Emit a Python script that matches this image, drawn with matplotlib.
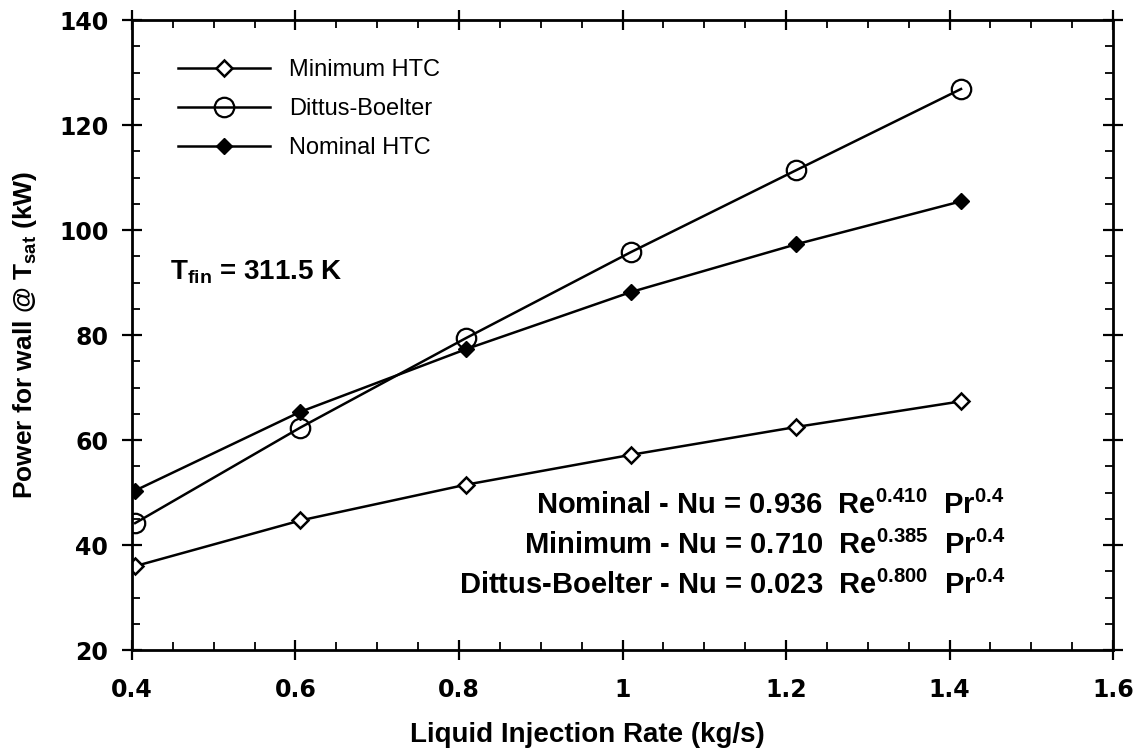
import matplotlib.pyplot as plt
from matplotlib.ticker import MultipleLocator

plt.rcParams['mathtext.fontset'] = 'custom'
plt.rcParams['mathtext.rm'] = 'Liberation Sans:bold'
plt.rcParams['mathtext.bf'] = 'Liberation Sans:bold'
plt.rcParams['mathtext.it'] = 'Liberation Sans:bold'

# injection rate (kg/s)
rate = [0.404, 0.606, 0.808, 1.010, 1.212, 1.414]

# wall power at T_sat (kW)
minimum_htc = [36.0, 44.7, 51.5, 57.2, 62.5, 67.4]
dittus_boelter = [44.2, 62.4, 79.4, 95.8, 111.4, 126.9]
nominal_htc = [50.4, 65.4, 77.3, 88.2, 97.3, 105.5]

fig = plt.figure(figsize=(11.37, 7.49), dpi=100)
ax = fig.add_axes([0.116, 0.132, 0.863, 0.841])

ax.plot(rate, minimum_htc, color='black', lw=1.8, marker='D', ms=8.5,
        mfc='white', mec='black', mew=1.8, label='Minimum HTC')
ax.plot(rate, dittus_boelter, color='black', lw=1.8, marker='o', ms=14,
        mfc='none', mec='black', mew=1.6, label='Dittus-Boelter')
ax.plot(rate, nominal_htc, color='black', lw=1.8, marker='D', ms=8.5,
        mfc='black', mec='black', label='Nominal HTC')

ax.set_xlim(0.4, 1.6)
ax.set_ylim(20, 140)
ax.xaxis.set_minor_locator(MultipleLocator(0.05))
ax.yaxis.set_major_locator(MultipleLocator(20))
ax.yaxis.set_minor_locator(MultipleLocator(5))
ax.set_xticks([0.4, 0.6, 0.8, 1.0, 1.2, 1.4, 1.6])
ax.set_xticklabels(['0.4', '0.6', '0.8', '1', '1.2', '1.4', '1.6'])

ax.tick_params(which='major', direction='inout', length=14, width=1.6,
               top=True, right=True, labelsize=17)
ax.tick_params(axis='x', which='major', pad=13)
ax.tick_params(axis='y', which='major', pad=10)
ax.tick_params(which='minor', direction='in', length=6, width=1.3,
               top=True, right=True)
for lbl in ax.get_xticklabels() + ax.get_yticklabels():
    lbl.set_family('DejaVu Sans')
    lbl.set_fontweight('bold')
for sp in ax.spines.values():
    sp.set_linewidth(2)

ax.set_ylabel(r'Power for wall @ T$_{\mathrm{sat}}$ (kW)', family='Liberation Sans',
              fontsize=19, fontweight='bold', labelpad=14)
fig.text(587 / 1137, 1 - 735 / 749, 'Liquid Injection Rate (kg/s)', ha='center',
         va='center', family='Liberation Sans', fontsize=20, fontweight='bold')

leg = ax.legend(loc='upper left', bbox_to_anchor=(0.025, 0.972), frameon=False,
                handlelength=3.9, handletextpad=0.8, labelspacing=0.72,
                prop={'family': 'Liberation Sans', 'size': 17})

ax.text(170 / 1137, 1 - 272 / 749, r'T$_{\mathrm{fin}}$ = 311.5 K', transform=fig.transFigure,
        ha='left', va='center', family='Liberation Sans', fontsize=20, fontweight='bold')

equations = [
    r'Nominal - Nu = 0.936  Re$^{\mathrm{0.410}}$  Pr$^{\mathrm{0.4}}$',
    r'Minimum - Nu = 0.710  Re$^{\mathrm{0.385}}$  Pr$^{\mathrm{0.4}}$',
    r'Dittus-Boelter - Nu = 0.023  Re$^{\mathrm{0.800}}$  Pr$^{\mathrm{0.4}}$',
]
for i, eq in enumerate(equations):
    ax.text(1005 / 1137, 1 - (505 + 40 * i) / 749, eq, transform=fig.transFigure,
            ha='right', va='center', family='Liberation Sans', fontsize=21,
            fontweight='bold')

fig.savefig('out.png', dpi=100)
